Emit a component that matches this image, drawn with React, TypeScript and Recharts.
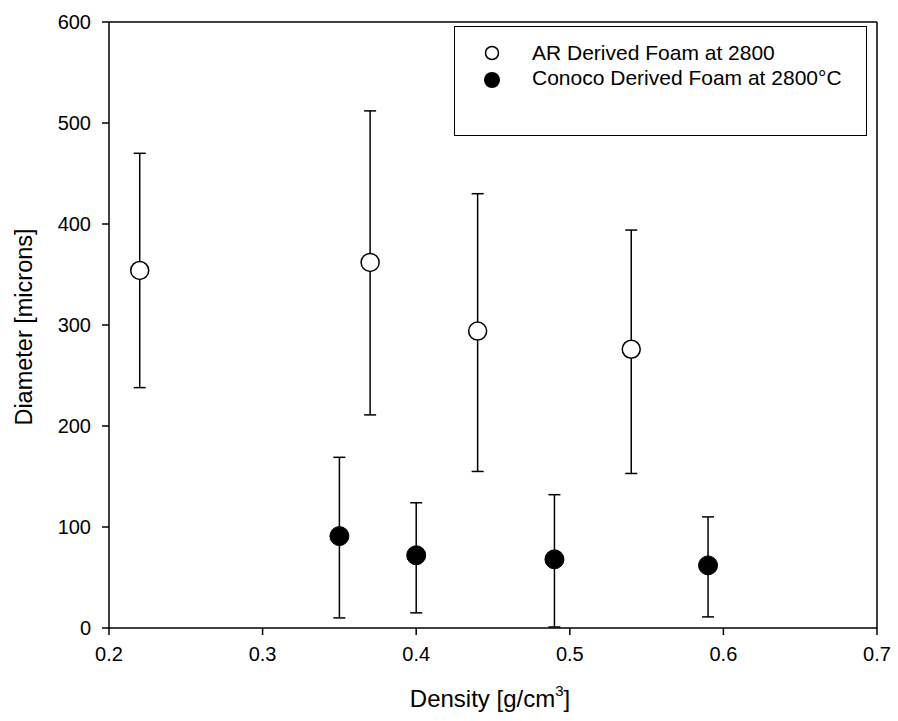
import React from 'react';
import { ScatterChart, Scatter, XAxis, YAxis, ErrorBar, ReferenceLine, Label } from 'recharts';

const arDensity = [0.22, 0.37, 0.44, 0.54];
const arDiameter = [354, 362, 294, 276];
const arLow = [238, 211, 155, 153];
const arHigh = [470, 512, 430, 394];

const conocoDensity = [0.35, 0.4, 0.49, 0.59];
const conocoDiameter = [91, 72, 68, 62];
const conocoLow = [10, 15, 1, 11];
const conocoHigh = [169, 124, 132, 110];

const xTicks = [0.2, 0.3, 0.4, 0.5, 0.6, 0.7];
const yTicks = [0, 100, 200, 300, 400, 500, 600];

const arLabel = 'AR Derived Foam at 2800';
const conocoLabel = 'Conoco Derived Foam at 2800°C';

const FONT = '"Liberation Sans", Arial, sans-serif';

const toRows = (xs: number[], ys: number[], lo: number[], hi: number[]) =>
  xs.map((x, i) => ({ x, y: ys[i], err: [ys[i] - lo[i], hi[i] - ys[i]] }));

const arData = toRows(arDensity, arDiameter, arLow, arHigh);
const conocoData = toRows(conocoDensity, conocoDiameter, conocoLow, conocoHigh);

const OpenDot = (p: any) => (
  <circle cx={p.cx} cy={p.cy} r={9} fill="#fff" stroke="#000" strokeWidth={1.5} />
);
const FilledDot = (p: any) => (
  <circle cx={p.cx} cy={p.cy} r={9.5} fill="#000" stroke="#000" strokeWidth={1} />
);

const axisStroke = { stroke: '#000', strokeWidth: 1.5 };
const tickStyle = { fill: '#000', fontSize: 20, fontFamily: FONT };

const XLabel = (props: any) => {
  const vb = props.viewBox;
  return (
    <text x={vb.x + vb.width / 2 - 3} y={707} textAnchor="middle" fontSize={24} fontFamily={FONT} fill="#000">
      Density [g/cm
      <tspan dy={-11} fontSize={15}>3</tspan>
      <tspan dy={11}>]</tspan>
    </text>
  );
};

const YLabel = (props: any) => {
  const vb = props.viewBox;
  const cx = 24;
  const cy = vb.y + vb.height / 2 + 2;
  return (
    <text
      x={cx}
      y={cy}
      transform={`rotate(-90, ${cx}, ${cy})`}
      textAnchor="middle"
      dominantBaseline="central"
      fontSize={23.5}
      fontFamily={FONT}
      fill="#000"
    >
      Diameter [microns]
    </text>
  );
};

export default function App() {
  return (
    <div style={{ position: 'absolute', left: 0, top: 0, width: 898, height: 721, background: '#fff' }}>
      <ScatterChart width={898} height={721} margin={{ top: 22, right: 21, left: 0, bottom: 0 }}>
        <XAxis
          type="number"
          dataKey="x"
          domain={[0.2, 0.7]}
          ticks={xTicks}
          tickFormatter={(v: number) => v.toFixed(1)}
          tickSize={7}
          tickMargin={12}
          height={93}
          axisLine={axisStroke}
          tickLine={axisStroke}
          tick={tickStyle}
          allowDataOverflow
        >
          <Label content={XLabel} />
        </XAxis>
        <YAxis
          type="number"
          dataKey="y"
          domain={[0, 600]}
          ticks={yTicks}
          tickSize={7}
          tickMargin={11}
          width={109}
          axisLine={axisStroke}
          tickLine={axisStroke}
          tick={tickStyle}
          allowDataOverflow
        >
          <Label content={YLabel} />
        </YAxis>
        <ReferenceLine y={600} stroke="#000" strokeWidth={1.5} />
        <ReferenceLine x={0.7} stroke="#000" strokeWidth={1.5} />
        <Scatter name={arLabel} data={arData} shape={OpenDot} isAnimationActive={false}>
          <ErrorBar dataKey="err" direction="y" width={6} stroke="#000" strokeWidth={1.5} />
        </Scatter>
        <Scatter name={conocoLabel} data={conocoData} shape={FilledDot} isAnimationActive={false}>
          <ErrorBar dataKey="err" direction="y" width={6} stroke="#000" strokeWidth={1.5} />
        </Scatter>
      </ScatterChart>
      <div
        style={{
          position: 'absolute',
          left: 454,
          top: 26,
          width: 413,
          height: 110,
          boxSizing: 'border-box',
          border: '1.5px solid #000',
          background: '#fff',
        }}
      >
        <svg width={410} height={107} style={{ position: 'absolute', left: 0, top: 0 }}>
          <circle cx={37} cy={26} r={6.5} fill="#fff" stroke="#000" strokeWidth={1.5} />
          <circle cx={37} cy={53} r={8} fill="#000" />
          <text x={77} y={33} fontSize={21} fontFamily={FONT} fill="#000">{arLabel}</text>
          <text x={77} y={58} fontSize={21} fontFamily={FONT} fill="#000">{conocoLabel}</text>
        </svg>
      </div>
    </div>
  );
}
